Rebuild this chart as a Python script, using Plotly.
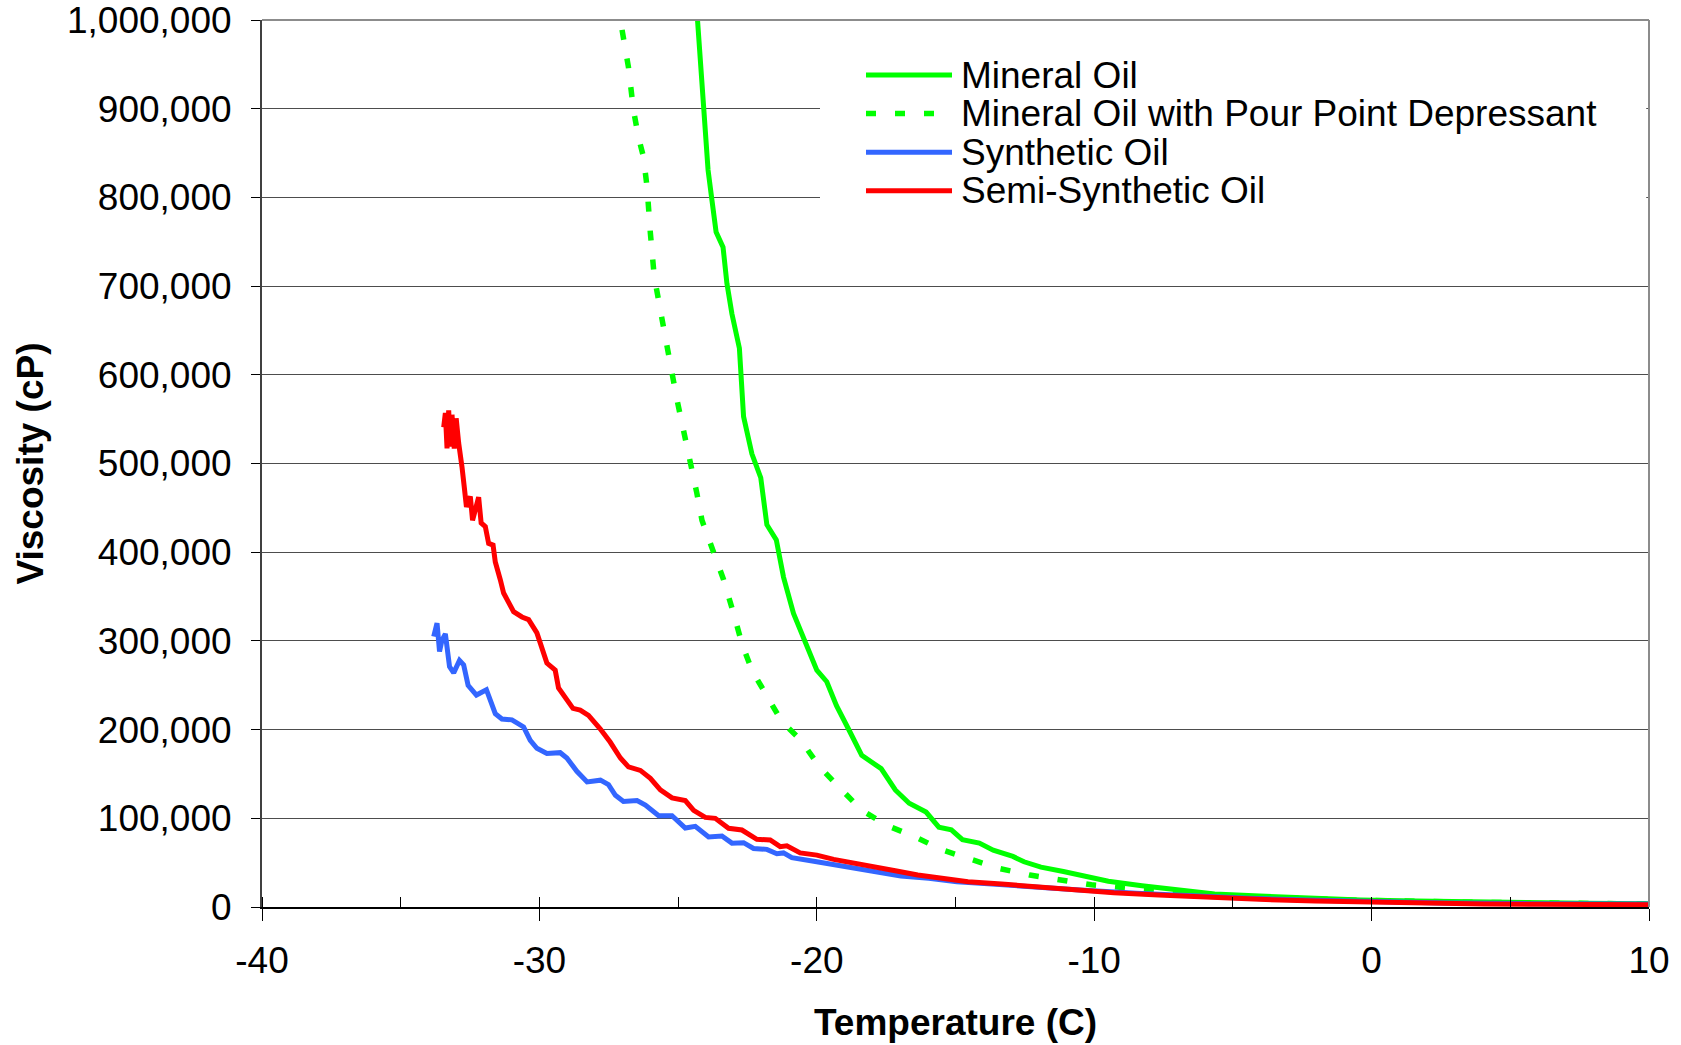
import plotly.graph_objects as go

# ---------------- data ----------------
series_names = ["Mineral Oil", "Mineral Oil with Pour Point Depressant",
                "Synthetic Oil", "Semi-Synthetic Oil"]
x_title = "Temperature (C)"
y_title = "Viscosity (cP)"

mineral_T = [-24.30, -24.14, -24.02, -23.92, -23.78, -23.63, -23.38, -23.24, -23.06, -22.79,
             -22.64, -22.34, -22.02, -21.80, -21.46, -21.20, -20.84, -20.60, -20.30, -20.00,
             -19.64, -19.29, -18.83, -18.38, -17.68, -17.17, -16.67, -16.06, -15.60, -15.15,
             -14.75, -14.14, -13.64, -12.93, -12.53, -11.92, -11.11, -10.30, -9.49, -8.28,
             -6.87, -5.66, -4.04, -2.42, -0.40, 1.62, 3.64, 5.66, 7.68, 10.0]
mineral_V = [1000000, 929000, 880000, 831000, 797000, 761000, 744000, 703000, 669000, 630000,
             553000, 511000, 484000, 431000, 414000, 372000, 331000, 312000, 289000, 267000,
             254000, 227000, 199000, 171000, 156000, 132000, 117000, 107000, 90000, 87000,
             76000, 72000, 64000, 57000, 51000, 45000, 40000, 34000, 29000, 24000,
             19000, 14600, 12400, 9800, 7900, 6800, 5600, 4900, 4100, 3800]

ppd_T = [-27.02, -26.79, -26.61, -26.43, -26.25, -26.12, -26.00, -25.86, -25.64, -25.40,
         -25.22, -25.04, -24.80, -24.56, -24.32, -24.14, -23.72, -23.36, -23.00, -22.70,
         -22.34, -21.80, -21.26, -20.60, -19.90, -19.19, -18.38, -17.47, -16.46, -15.45,
         -14.44, -13.43, -12.32, -11.21, -10.10, -9.00, -7.88, -6.46, -4.44, -2.42,
         -0.40, 3.64, 10.0]
ppd_V = [989000, 947000, 899000, 868000, 846000, 812000, 760000, 711000, 673000, 636000,
         602000, 572000, 538000, 502000, 466000, 436000, 402000, 369000, 331000, 297000,
         267000, 237000, 209000, 189000, 158000, 135000, 109000, 92000, 79000, 64000,
         53000, 43500, 36000, 30000, 25000, 22000, 19000, 15400, 11600, 9400,
         7500, 5300, 3400]

syn_T = [-33.81, -33.69, -33.60, -33.51, -33.39, -33.24, -33.09, -32.88, -32.73, -32.57,
         -32.27, -31.91, -31.59, -31.35, -30.99, -30.57, -30.33, -30.09, -29.73, -29.25,
         -29.01, -28.65, -28.28, -27.80, -27.51, -27.26, -26.97, -26.48, -26.18, -25.70,
         -25.22, -24.74, -24.38, -23.90, -23.42, -23.06, -22.64, -22.28, -21.80, -21.44,
         -21.20, -20.90, -20.00, -18.99, -17.98, -16.97, -15.96, -14.95, -13.54, -12.12,
         -10.51, -8.49, -6.46, -4.44, -2.42, -0.40, 2.63, 5.66, 10.0]
syn_V = [305000, 320000, 288000, 301000, 308000, 271000, 264000, 278000, 273000, 250000,
         239000, 245000, 218000, 212000, 211000, 203000, 188000, 179000, 173000, 174000,
         168000, 153000, 141000, 143000, 138000, 126000, 119000, 120000, 115000, 103000,
         103000, 89000, 91000, 79000, 80000, 72000, 72500, 66000, 65000, 60000,
         61000, 55600, 51000, 45400, 39800, 34900, 32300, 28500, 25500, 22100,
         19100, 15400, 12400, 9800, 7900, 6400, 4500, 3800, 3400]

semi_T = [-33.45, -33.39, -33.33, -33.27, -33.21, -33.15, -33.07, -33.00, -32.91, -32.85,
          -32.79, -32.71, -32.63, -32.49, -32.41, -32.19, -32.10, -31.95, -31.83, -31.67,
          -31.59, -31.41, -31.29, -30.93, -30.63, -30.39, -30.09, -29.73, -29.43, -29.31,
          -29.01, -28.79, -28.53, -28.23, -27.81, -27.45, -27.08, -26.79, -26.36, -26.00,
          -25.64, -25.22, -24.74, -24.44, -24.02, -23.66, -23.18, -22.70, -22.16, -21.68,
          -21.32, -21.08, -20.60, -20.00, -19.39, -18.79, -17.98, -17.17, -16.36, -15.35,
          -14.55, -13.34, -12.12, -10.91, -9.29, -7.68, -6.06, -4.04, -2.02, 0.00,
          2.02, 4.04, 6.06, 8.08, 10.0]
semi_V = [541000, 557000, 517000, 560000, 519000, 555000, 517000, 551000, 523000, 513000,
          496000, 474000, 451000, 463000, 436000, 462000, 433000, 429000, 410000, 408000,
          389000, 369000, 354000, 333000, 327000, 324000, 309000, 275000, 267000, 247000,
          235000, 224000, 222000, 216000, 201000, 186000, 168000, 158000, 154000, 145000,
          132000, 123000, 120000, 109000, 101000, 100000, 88700, 86800, 76300, 75500,
          68000, 69000, 61000, 58500, 53700, 49900, 45400, 40900, 36000, 32300,
          28500, 25900, 22900, 19900, 16100, 13500, 10900, 8600, 6800, 5300,
          4100, 3400, 3000, 2600, 2600]

x_ticks = [-40, -30, -20, -10, 0, 10]
y_ticks = [0, 100000, 200000, 300000, 400000, 500000, 600000, 700000, 800000, 900000, 1000000]

# ---------------- styling ----------------
colors = ["#00FF00", "#00FF00", "#3366FF", "#FF0000"]
dashes = ["solid", "10px,19px", "solid", "solid"]
widths = [5, 5.5, 5, 5]
FONT = "Liberation Sans, Arial, sans-serif"
FS = 37

fig = go.Figure()
for name, xs, ys, c, d, w in zip(series_names,
                                 [mineral_T, ppd_T, syn_T, semi_T],
                                 [mineral_V, ppd_V, syn_V, semi_V],
                                 colors, dashes, widths):
    fig.add_trace(go.Scatter(x=xs, y=ys, mode="lines", name=name,
                             line=dict(color=c, width=w, dash=d),
                             showlegend=False))

# page margin is removed (post_script), so pixel values are page coordinates
W, H = 1681, 1045
PL, PR, PT, PB = 262, 1649, 20, 907  # plot area in page pixels
L, T = PL, PT
R, B = W - PR, H - PB
pw, ph = PR - PL, PB - PT

def px_x(v):
    return (v - PL) / pw

def px_y(v):
    return (PB - v) / ph

shapes = []
# white legend background hiding gridlines
shapes.append(dict(type="rect", xref="paper", yref="paper",
                   x0=px_x(820), x1=0.998, y0=px_y(215), y1=0.995,
                   fillcolor="white", line=dict(width=0), layer="above"))
# top and right frame
shapes.append(dict(type="line", xref="paper", yref="paper", x0=0, x1=1, y0=1, y1=1,
                   line=dict(color="#8c8c8c", width=2), layer="above"))
shapes.append(dict(type="line", xref="paper", yref="paper", x0=1, x1=1, y0=0, y1=1,
                   line=dict(color="#8c8c8c", width=2), layer="above"))

annotations = []
leg_y = [75, 113.6, 152.2, 190.8]
for name, c, d, w, yy in zip(series_names, colors, dashes, widths, leg_y):
    yp = px_y(yy)
    shapes.append(dict(type="line", xref="paper", yref="paper",
                       x0=px_x(866), x1=px_x(952), y0=yp, y1=yp,
                       line=dict(color=c, width=w, dash=d), layer="above"))
    annotations.append(dict(xref="paper", yref="paper", x=px_x(959), y=yp,
                            xanchor="left", yanchor="middle", text=name,
                            showarrow=False,
                            font=dict(family=FONT, size=FS, color="black")))

# axis titles
annotations.append(dict(xref="paper", yref="paper", x=0.5, y=px_y(1022),
                        xanchor="center", yanchor="middle",
                        text=f"<b>{x_title}</b>", showarrow=False,
                        font=dict(family=FONT, size=FS, color="black")))
annotations.append(dict(xref="paper", yref="paper", x=px_x(30), y=0.5,
                        xanchor="center", yanchor="middle", textangle=-90,
                        text=f"<b>{y_title}</b>", showarrow=False,
                        font=dict(family=FONT, size=FS, color="black")))

fig.update_layout(
    width=W, height=H,
    margin=dict(l=L, r=R, t=T, b=B, pad=0),
    paper_bgcolor="white", plot_bgcolor="white",
    font=dict(family=FONT, size=FS, color="black"),
    shapes=shapes, annotations=annotations,
    showlegend=False,
)
fig.update_xaxes(
    range=[-40, 10.0001], tickvals=x_ticks, ticktext=[str(v) for v in x_ticks],
    showgrid=False, zeroline=False,
    showline=True, linecolor="black", linewidth=2,
    ticks="outside", ticklen=12, tickwidth=1, tickcolor="black",
    ticklabelstandoff=8, ticklabeloverflow="allow",
    minor=dict(dtick=5, ticks="inside", ticklen=10, tickwidth=1, tickcolor="black", showgrid=False),
    tickfont=dict(family=FONT, size=FS, color="black"),
    automargin=False,
)
fig.update_yaxes(
    range=[0, 1000100], tickvals=y_ticks, ticktext=[f"{v:,}" for v in y_ticks],
    showgrid=True, gridcolor="#4d4d4d", gridwidth=1, zeroline=False,
    showline=True, linecolor="#404040", linewidth=2,
    ticks="outside", ticklen=9, tickwidth=1, tickcolor="black",
    ticklabelstandoff=12, ticklabeloverflow="allow",
    tickfont=dict(family=FONT, size=FS, color="black"),
    automargin=False,
)

fig.write_html("out.html", config={"displayModeBar": False},
               post_script="document.body.style.margin='0';document.body.style.overflow='hidden';")
